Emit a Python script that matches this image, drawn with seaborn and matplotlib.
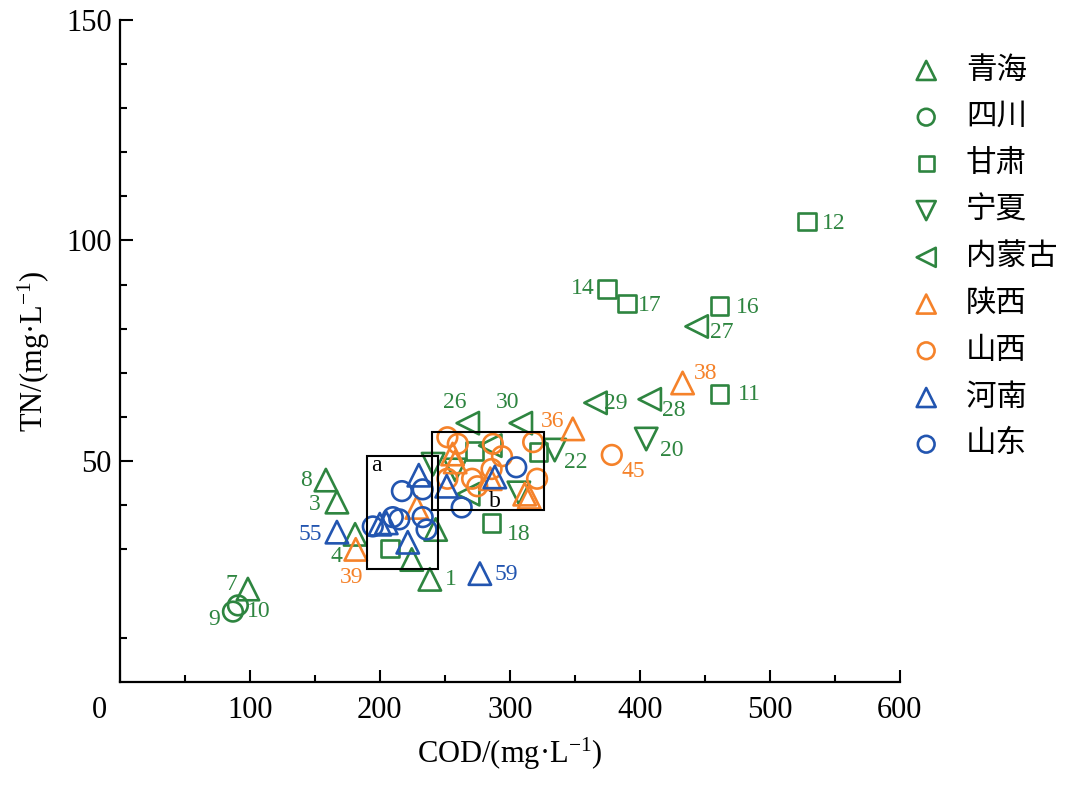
import matplotlib
matplotlib.use("Agg")
import pandas as pd
from matplotlib import pyplot as plt
from matplotlib.patches import Rectangle
from matplotlib.transforms import ScaledTranslation
import seaborn as sns

# 青海
qh_x = [238.5, 167, 181, 98.5, 158.5, 224.6, 243]
qh_y = [23.2, 40.7, 33.4, 21.0, 45.7, 27.7, 34.5]
qh_id = ['1', '3', '4', '7', '8', '', '']
# 四川
sc_x = [87, 90.8]
sc_y = [15.9, 17.3]
sc_id = ['9', '10']
# 甘肃
gs_x = [461.5, 528.5, 375, 461.5, 390, 286, 207.7, 273, 322]
gs_y = [65.2, 104.3, 89.0, 85.2, 85.7, 36.0, 30.2, 52.3, 52.0]
gs_id = ['11', '12', '14', '16', '17', '18', '', '', '']
# 宁夏
nx_x = [405, 334.6, 241, 258, 307]
nx_y = [55.0, 52.5, 49.3, 48.0, 42.8]
nx_id = ['20', '22', '', '', '']
# 内蒙古
nm_x = [267.7, 443.8, 407.7, 366, 308.5, 285, 268]
nm_y = [58.6, 80.5, 64.0, 63.2, 58.6, 53.5, 42.5]
nm_id = ['26', '27', '28', '29', '30', '', '']
# 陕西
shx_x = [348.5, 433, 181.5, 228.5, 256, 258, 285, 311.5, 315]
shx_y = [57.3, 67.7, 30.0, 39.5, 51.6, 49.8, 46.0, 42.5, 41.8]
shx_id = ['36', '38', '39', '', '', '', '', '', '']
# 山西
sx_x = [378.5, 252, 260, 287, 294, 271, 275, 252, 286, 318, 321]
sx_y = [51.4, 55.4, 53.9, 53.9, 51.1, 46.0, 44.3, 46.0, 48.2, 54.3, 46.0]
sx_id = ['45', '', '', '', '', '', '', '', '', '', '']
# 河南
hn_x = [167, 277, 230, 200, 205, 221.5, 251.5, 288.5]
hn_y = [33.9, 24.5, 46.8, 35.7, 36.0, 31.6, 44.3, 46.4]
hn_id = ['55', '59', '', '', '', '', '', '']
# 山东
sd_x = [217, 233, 194.6, 210, 215, 233, 236, 263, 305]
sd_y = [43.2, 43.6, 35.2, 37.3, 36.8, 37.3, 34.5, 39.5, 48.6]
sd_id = [''] * 9

green = '#2E8540'
orange = '#F5822A'
blue = '#2255B0'

groups = [
    ('青海', qh_x, qh_y, qh_id, '^', green),
    ('四川', sc_x, sc_y, sc_id, 'o', green),
    ('甘肃', gs_x, gs_y, gs_id, 's', green),
    ('宁夏', nx_x, nx_y, nx_id, 'v', green),
    ('内蒙古', nm_x, nm_y, nm_id, '<', green),
    ('陕西', shx_x, shx_y, shx_id, '^', orange),
    ('山西', sx_x, sx_y, sx_id, 'o', orange),
    ('河南', hn_x, hn_y, hn_id, '^', blue),
    ('山东', sd_x, sd_y, sd_id, 'o', blue),
]

# label offsets in pixels (text centre relative to marker centre)
offsets = {
    '7': (-17, 5), '9': (-19, -8), '10': (21, -6), '8': (-20, 0),
    '3': (-22, -2), '55': (-27, -2), '4': (-19, -22), '39': (-4, -28),
    '1': (21, 0), '59': (26, -1), '18': (27, -12), '26': (-13, 21),
    '30': (-13, 21), '36': (-20, 7), '22': (21, -12), '45': (22, -17),
    '29': (20, -1), '28': (24, -11), '20': (26, -11), '38': (23, 9),
    '11': (30, 0), '27': (25, -6), '16': (28, -2), '17': (23, -2),
    '14': (-24, 0), '12': (27, -2),
}

sizes = {'^': 260, 'v': 260, '<': 260, 'o': 200, 's': 160}


def main():
    sns.set_style('ticks')
    plt.rcParams['font.family'] = ['Liberation Serif', 'Noto Sans CJK SC']
    plt.rcParams['mathtext.fontset'] = 'custom'
    plt.rcParams['mathtext.rm'] = 'Liberation Serif'
    plt.rcParams['mathtext.default'] = 'regular'
    for k in ['text.color', 'axes.labelcolor', 'xtick.color', 'ytick.color',
              'axes.edgecolor']:
        plt.rcParams[k] = 'black'

    fig = plt.figure(figsize=(10.8, 7.9), dpi=100)
    ax = fig.add_axes([0.111, 0.137, 0.722, 0.838])

    for name, xs, ys, ids, mk, c in groups:
        df = pd.DataFrame({'COD': xs, 'TN': ys})
        sns.scatterplot(data=df, x='COD', y='TN', marker=mk, s=sizes[mk],
                        color=c, facecolors='none', edgecolors=c,
                        linewidths=1.9, ax=ax, label=name, zorder=3)
        for x, y, t in zip(xs, ys, ids):
            if t:
                dx, dy = offsets[t]
                ax.annotate(t, (x, y), xytext=(dx, dy),
                            textcoords='offset pixels', ha='center',
                            va='center', color=c, fontsize=17)

    # zoom boxes
    ax.add_patch(Rectangle((190, 25.5), 54.6, 25.6, fill=False,
                           ec='black', lw=1.5, zorder=4))
    ax.add_patch(Rectangle((240, 39), 86, 17.5, fill=False,
                           ec='black', lw=1.5, zorder=4))
    ax.text(197.7, 49.0, 'a', fontsize=17, ha='center', va='center')
    ax.text(288.5, 40.9, 'b', fontsize=17, ha='center', va='center')

    ax.set_xlim(0, 600)
    ax.set_ylim(0, 150)
    ax.set_xticks([0, 100, 200, 300, 400, 500, 600])
    ax.set_yticks([50, 100, 150])
    ax.set_xticks([50, 150, 250, 350, 450, 550], minor=True)
    ax.set_yticks([10, 30, 40, 60, 70, 80, 90, 110, 120, 130, 140], minor=True)
    ax.tick_params(which='major', direction='in', length=9, width=1.5,
                   labelsize=22, pad=10)
    ax.tick_params(which='minor', direction='in', length=5, width=1.5)
    ax.tick_params(axis='y', pad=6)
    sns.despine(ax=ax)
    for sp in ['left', 'bottom']:
        ax.spines[sp].set_linewidth(1.6)

    # the origin label sits a little left of the axis corner
    lab0 = ax.get_xticklabels()[0]
    lab0.set_transform(lab0.get_transform() +
                       ScaledTranslation(-0.2, 0, fig.dpi_scale_trans))

    ax.set_xlabel(r'COD/(mg·L$^{-1}$)', fontsize=22, labelpad=8)
    ax.set_ylabel(r'TN/(mg·L$^{-1}$)', fontsize=22, labelpad=10)

    ax.legend(loc='upper left', bbox_to_anchor=(0.818, 0.944),
              bbox_transform=fig.transFigure, frameon=False,
              fontsize=22, markerscale=0.85, scatterpoints=1,
              handletextpad=0.3, labelspacing=0.58, borderaxespad=0)

    fig.savefig('out.png', dpi=100)


if __name__ == '__main__':
    main()
